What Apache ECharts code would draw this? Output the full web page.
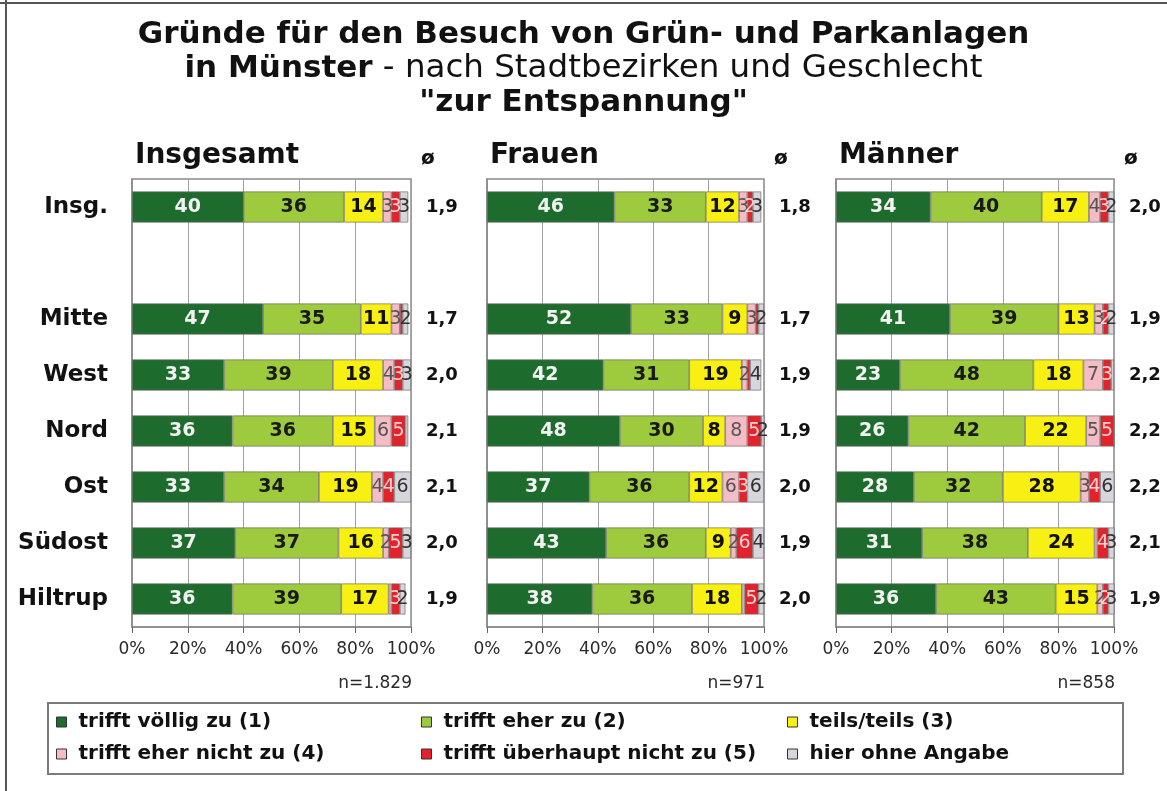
<!DOCTYPE html>
<html>
<head>
<meta charset="utf-8">
<title>Gründe für den Besuch von Grün- und Parkanlagen</title>
<script src="https://cdn.jsdelivr.net/npm/echarts@6/dist/echarts.min.js"></script>
<style>
  html, body { margin: 0; padding: 0; background: #ffffff; }
  #chart { width: 1167px; height: 791px; }
</style>
</head>
<body>
<div id="chart"></div>
<script>
// Stadtbezirke (the empty row separates the overall value from the districts)
const categories = ['Insg.', '', 'Mitte', 'West', 'Nord', 'Ost', 'Südost', 'Hiltrup'];

// Answer levels
const levels = [
  'trifft völlig zu (1)',
  'trifft eher zu (2)',
  'teils/teils (3)',
  'trifft eher nicht zu (4)',
  'trifft überhaupt nicht zu (5)',
  'hier ohne Angabe'
];

// Panel headings and sample sizes
const panelTitles = ['Insgesamt', 'Frauen', 'Männer'];
const sampleSizes = ['n=1.829', 'n=971', 'n=858'];

// X axis ticks (percent)
const percentTicks = [0, 20, 40, 60, 80, 100];

// Insgesamt, shares in percent per level
const insgVoellig      = [40, null, 47, 33, 36, 33, 37, 36];
const insgEher         = [36, null, 35, 39, 36, 34, 37, 39];
const insgTeils        = [14, null, 11, 18, 15, 19, 16, 17];
const insgEherNicht    = [3,  null, 3,  4,  6,  4,  2,  1];
const insgUeberhaupt   = [3,  null, 1,  3,  5,  4,  5,  3];
const insgOhneAngabe   = [3,  null, 2,  3,  1,  6,  3,  2];
const insgMittelwert   = [1.9, null, 1.7, 2.0, 2.1, 2.1, 2.0, 1.9];

// Frauen
const frauenVoellig    = [46, null, 52, 42, 48, 37, 43, 38];
const frauenEher       = [33, null, 33, 31, 30, 36, 36, 36];
const frauenTeils      = [12, null, 9,  19, 8,  12, 9,  18];
const frauenEherNicht  = [3,  null, 3,  2,  8,  6,  2,  1];
const frauenUeberhaupt = [2,  null, 1,  1,  5,  3,  6,  5];
const frauenOhneAngabe = [3,  null, 2,  4,  2,  6,  4,  2];
const frauenMittelwert = [1.8, null, 1.7, 1.9, 1.9, 2.0, 1.9, 2.0];

// Männer
const maennerVoellig    = [34, null, 41, 23, 26, 28, 31, 36];
const maennerEher       = [40, null, 39, 48, 42, 32, 38, 43];
const maennerTeils      = [17, null, 13, 18, 22, 28, 24, 15];
const maennerEherNicht  = [4,  null, 3,  7,  5,  3,  1,  2];
const maennerUeberhaupt = [3,  null, 2,  3,  5,  4,  4,  2];
const maennerOhneAngabe = [2,  null, 2,  1,  0,  6,  3,  3];
const maennerMittelwert = [2.0, null, 1.9, 2.2, 2.2, 2.2, 2.1, 1.9];

const panelData = [
  [insgVoellig, insgEher, insgTeils, insgEherNicht, insgUeberhaupt, insgOhneAngabe],
  [frauenVoellig, frauenEher, frauenTeils, frauenEherNicht, frauenUeberhaupt, frauenOhneAngabe],
  [maennerVoellig, maennerEher, maennerTeils, maennerEherNicht, maennerUeberhaupt, maennerOhneAngabe]
];
const panelMeans = [insgMittelwert, frauenMittelwert, maennerMittelwert];

const FONT = '"DejaVu Sans", Verdana, sans-serif';
const colors = ['#1d6b2d', '#9dcb3d', '#f7f012', '#f4bcc4', '#e3232b', '#d6d6dc'];
const labelStyles = [
  { color: '#f2f2f2', fontWeight: 'bold' },
  { color: '#1a1a1a', fontWeight: 'bold' },
  { color: '#111111', fontWeight: 'bold' },
  { color: '#555555', fontWeight: 'normal' },
  { color: '#fbd2d2', fontWeight: 'normal' },
  { color: '#333333', fontWeight: 'normal' }
];

// Plot area of each panel
const panels = [
  { left: 132, width: 279 },
  { left: 487, width: 277 },
  { left: 836, width: 278 }
];
const plotTop = 179;
const plotHeight = 448;

const fmtMean = v => (v == null ? '' : v.toFixed(1).replace('.', ','));

const grids = [], xAxes = [], yAxes = [], series = [], graphics = [];

panels.forEach((p, pi) => {
  grids.push({
    left: p.left, width: p.width, top: plotTop, height: plotHeight,
    show: true, borderColor: '#8a8a8a', borderWidth: 1.5, backgroundColor: 'transparent'
  });
  xAxes.push({
    type: 'value', gridIndex: pi, min: percentTicks[0], max: percentTicks[percentTicks.length - 1],
    interval: percentTicks[1] - percentTicks[0],
    axisLine: { show: true, lineStyle: { color: '#8a8a8a', width: 1.5 } },
    axisTick: { show: true, length: 6, lineStyle: { color: '#666' } },
    splitLine: { show: true, lineStyle: { color: '#a0a0a0', width: 1 } },
    axisLabel: { formatter: v => v + '%', fontFamily: FONT, fontSize: 17, color: '#2a2a2a', margin: 14 }
  });
  // category axis (left)
  yAxes.push({
    type: 'category', gridIndex: pi, data: categories, inverse: true,
    axisLine: { show: true, lineStyle: { color: '#8a8a8a', width: 1.5 } },
    axisTick: { show: false },
    axisLabel: {
      show: pi === 0, fontFamily: FONT, fontSize: 23, fontWeight: 'bold', color: '#111', margin: 24
    }
  });
  // mean values (right)
  const means = panelMeans[pi];
  yAxes.push({
    type: 'category', gridIndex: pi, data: categories, inverse: true, position: 'right',
    axisLine: { show: false }, axisTick: { show: false },
    axisLabel: {
      formatter: (val, idx) => fmtMean(means[idx]),
      fontFamily: FONT, fontSize: 18, fontWeight: 'bold', color: '#111', margin: 15
    }
  });

  levels.forEach((name, li) => {
    series.push({
      type: 'bar', name: name, stack: 'panel' + pi,
      xAxisIndex: pi, yAxisIndex: pi * 2,
      data: panelData[pi][li],
      barWidth: 31,
      itemStyle: { color: colors[li], borderColor: '#6e6e6e', borderWidth: 0.7 },
      label: {
        show: true, position: 'inside',
        formatter: d => (d.value != null && d.value >= 2 ? String(d.value) : ''),
        fontFamily: FONT, fontSize: 19,
        color: labelStyles[li].color, fontWeight: labelStyles[li].fontWeight
      },
      emphasis: { disabled: true }
    });
  });

  // panel heading
  graphics.push({
    type: 'text', left: p.left + 3, top: 142,
    style: { text: panelTitles[pi], fontFamily: FONT, fontSize: 28, fontWeight: 'bold', fill: '#111' }
  });
  // mean symbol
  graphics.push({
    type: 'text', left: p.left + p.width + 10, top: 149,
    style: { text: 'ø', fontFamily: FONT, fontSize: 20, fontWeight: 'bold', fill: '#111' }
  });
  // sample size
  graphics.push({
    type: 'text', right: 1167 - (p.left + p.width) - 1, top: 675,
    style: { text: sampleSizes[pi], fontFamily: FONT, fontSize: 17, fill: '#2a2a2a', textAlign: 'right' }
  });
});

// legend box
graphics.push({
  type: 'rect', shape: { x: 48, y: 703, width: 1075, height: 71 },
  style: { fill: 'transparent', stroke: '#7a7a7a', lineWidth: 2 }
});
// outer frame (top and left edges)
graphics.push({ type: 'line', shape: { x1: 0, y1: 3, x2: 1167, y2: 3 }, style: { stroke: '#555', lineWidth: 2 } });
graphics.push({ type: 'line', shape: { x1: 6, y1: 0, x2: 6, y2: 791 }, style: { stroke: '#555', lineWidth: 2 } });

// one legend per entry, laid out in three columns and two rows
const legendCols = [51, 416, 782];
const legendRows = [707, 739];
const legends = levels.map((name, i) => ({
  data: [name],
  left: legendCols[i % 3], top: legendRows[Math.floor(i / 3)],
  icon: 'rect', itemWidth: 10, itemHeight: 10,
  itemStyle: { borderColor: '#333', borderWidth: 1 },
  selectedMode: false,
  textStyle: { fontFamily: FONT, fontSize: 20, fontWeight: 'bold', color: '#111', padding: [0, 0, 0, 7] }
}));

const option = {
  backgroundColor: '#ffffff',
  animation: false,
  title: {
    left: 'center', top: 13,
    text: '{b|Gründe für den Besuch von Grün- und Parkanlagen}\n{b|in Münster}{n| - nach Stadtbezirken und Geschlecht}\n{b|"zur Entspannung"}',
    textStyle: {
      rich: {
        b: { fontFamily: FONT, fontSize: 31, fontWeight: 'bold', color: '#111', lineHeight: 34 },
        n: { fontFamily: FONT, fontSize: 32.5, fontWeight: 'normal', color: '#111', lineHeight: 34 }
      }
    }
  },
  legend: legends,
  grid: grids,
  xAxis: xAxes,
  yAxis: yAxes,
  series: series,
  graphic: graphics
};

const chart = echarts.init(document.getElementById('chart'), null, { renderer: 'canvas' });
chart.setOption(option);
</script>
</body>
</html>
